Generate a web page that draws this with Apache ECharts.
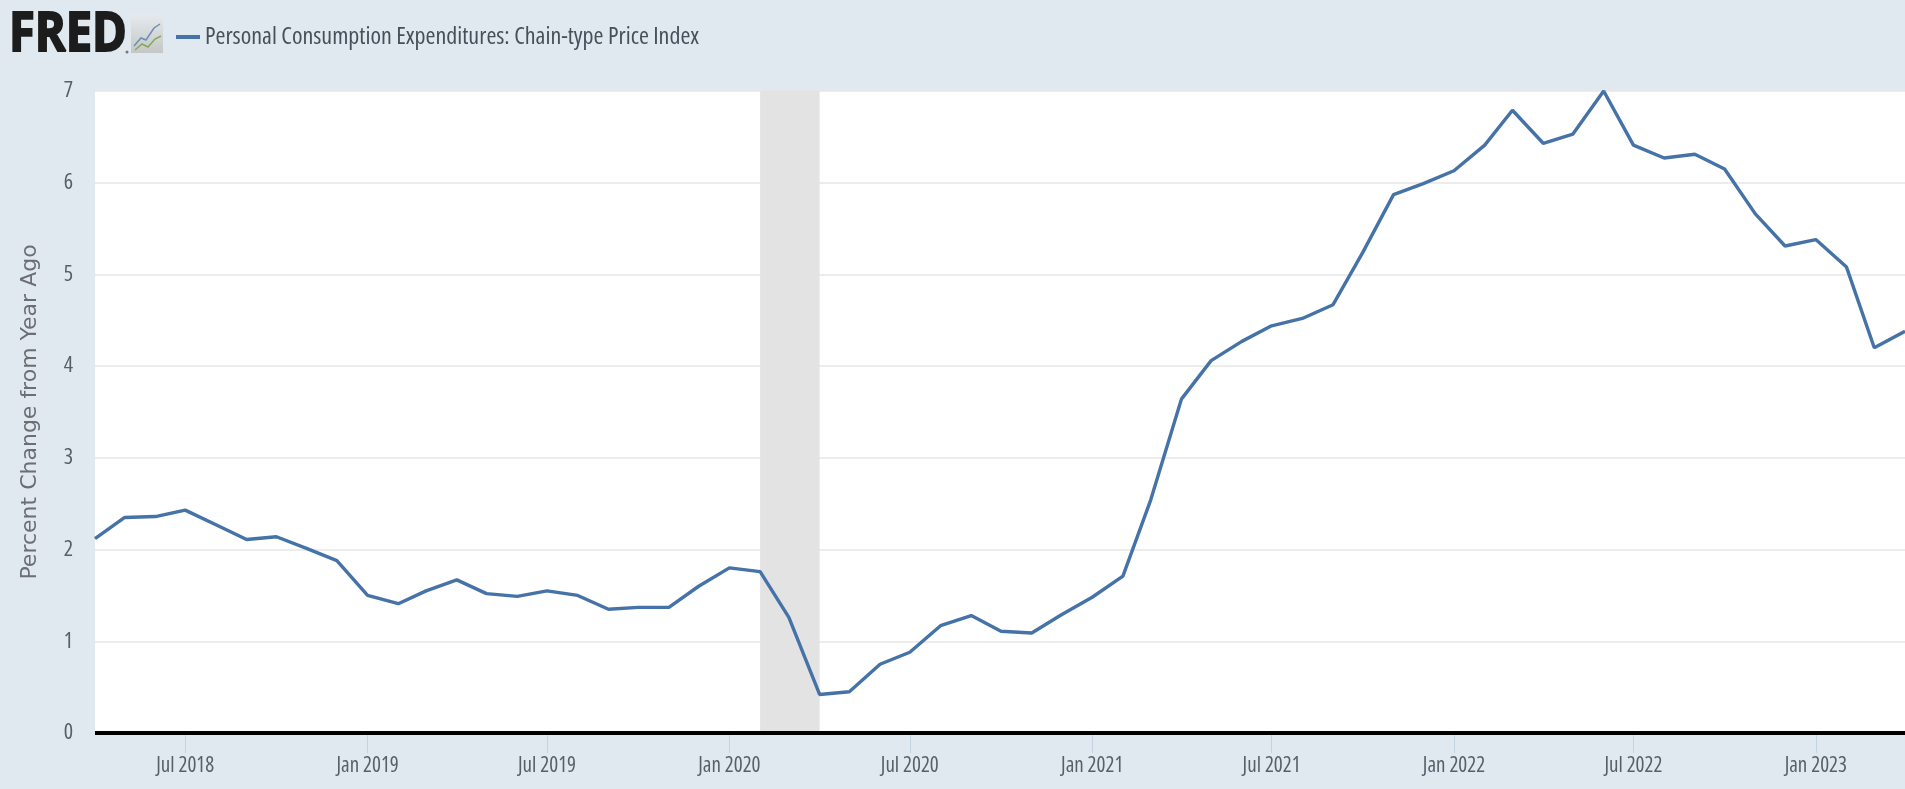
<!DOCTYPE html>
<html><head><meta charset="utf-8">
<style>html,body{margin:0;padding:0;background:#e1e9f0;overflow:hidden}#c{width:1905px;height:789px}</style>
<script src="https://cdn.jsdelivr.net/npm/echarts@6/dist/echarts.min.js"></script>
</head><body><div id="c"></div>
<script>
const seriesName = 'Personal Consumption Expenditures: Chain-type Price Index';
const yAxisTitle = 'Percent Change from Year Ago';
const startYear = 2018, startMonth = 4;
const pceValues = [
 2.12,2.35,2.36,2.43,2.27,2.11,2.14,2.01,1.88,
 1.50,1.41,1.55,1.67,1.52,1.49,1.55,1.50,1.35,1.37,1.37,1.60,
 1.80,1.76,1.26,0.42,0.45,0.75,0.88,1.17,1.28,1.11,1.09,1.29,
 1.48,1.71,2.54,3.64,4.06,4.27,4.44,4.52,4.67,5.24,5.87,5.99,
 6.13,6.41,6.79,6.43,6.53,7.00,6.41,6.27,6.31,6.15,5.66,5.31,
 5.38,5.08,4.20,4.38];
const tickDates = ['2018-07-01','2019-01-01','2019-07-01','2020-01-01','2020-07-01','2021-01-01','2021-07-01','2022-01-01','2022-07-01','2023-01-01'];
const tickLabels = ['Jul 2018','Jan 2019','Jul 2019','Jan 2020','Jul 2020','Jan 2021','Jul 2021','Jan 2022','Jul 2022','Jan 2023'];
const recession = ['2020-02-01','2020-04-01'];
const axisStart = '2018-04-01', axisEnd = '2023-04-01';

const ts = s => { const [y,m,d]=s.split('-').map(Number); return Date.UTC(y,m-1,d); };
const seriesData = pceValues.map((v,i)=>[Date.UTC(startYear,startMonth-1+i,1), v]);
const tickTimes = tickDates.map(ts);
const open = '"Open Sans",sans-serif';
const labelColor = '#56606b';

const chart = echarts.init(document.getElementById('c'), null, {renderer:'canvas'});
chart.setOption({
  animation:false,
  backgroundColor:'#e1e9f0',
  grid:{left:95,right:0,top:91,height:642,show:true,backgroundColor:'#ffffff',borderWidth:0},
  legend:{show:true,left:171,top:20,itemWidth:24,itemHeight:4,icon:'rect',itemGap:8,
    data:[seriesName],
    textStyle:{fontFamily:open,fontWeight:'condensed',fontSize:24,color:'#46505a'}},
  xAxis:{type:'value',min:ts(axisStart),max:ts(axisEnd),scale:true,
    axisLine:{show:false},
    splitLine:{show:false},
    axisTick:{show:true,customValues:tickTimes,length:20,lineStyle:{color:'#c5d3e3',width:1}},
    axisLabel:{show:true,customValues:tickTimes,margin:23,fontFamily:open,fontWeight:'condensed',fontSize:21,color:labelColor,
      formatter:v=>{const i=tickTimes.indexOf(+v);return i>=0?tickLabels[i]:'';}}
  },
  yAxis:{type:'value',min:0,max:7,interval:1,
    name:yAxisTitle,nameLocation:'middle',nameGap:54,
    nameTextStyle:{fontFamily:'"DejaVu Sans",sans-serif',fontSize:22,color:'#6b6f73'},
    axisLine:{show:false},axisTick:{show:false},
    splitLine:{show:true,lineStyle:{color:'#e6e6e6',width:1.5}},
    axisLabel:{margin:22,fontFamily:open,fontWeight:'condensed',fontSize:22,color:labelColor}
  },
  series:[
    {name:seriesName,type:'line',data:seriesData,showSymbol:false,symbol:'none',smooth:false,
     color:'#4572a7',lineStyle:{color:'#4572a7',width:3.4},z:5,
     markArea:{silent:true,itemStyle:{color:'#e3e3e3',opacity:1},data:[[{xAxis:ts(recession[0])},{xAxis:ts(recession[1])}]]},
     markLine:{silent:true,symbol:'none',label:{show:false},
       lineStyle:{color:'#000000',width:4,type:'solid',opacity:1},data:[{yAxis:0}]}
    }
  ],
  graphic:[
    {type:'text',x:9,y:9,scaleX:0.87,z:20,style:{text:'FRED',fontFamily:open,fontWeight:'bold',fontSize:54,fill:'#1c1c1c',stroke:'#1c1c1c',lineWidth:2}},
    {type:'circle',shape:{cx:127,cy:52,r:1.5},z:20,style:{fill:'#777'}},
    {type:'rect',shape:{x:131,y:14,width:32,height:39},z:20,style:{fill:new echarts.graphic.LinearGradient(0,0,0,1,[{offset:0,color:'#e6eaee'},{offset:1,color:'#c4c7c6'}])}},
    {type:'polyline',shape:{points:[[134,46],[141,38],[146,40],[154,28],[160,24]]},z:21,style:{stroke:'#6d8fb3',lineWidth:1.5,fill:null}},
    {type:'polyline',shape:{points:[[135,50],[142,44],[148,47],[155,39],[161,36]]},z:21,style:{stroke:'#86a85a',lineWidth:1.5,fill:null}}
  ]
});
</script></body></html>
